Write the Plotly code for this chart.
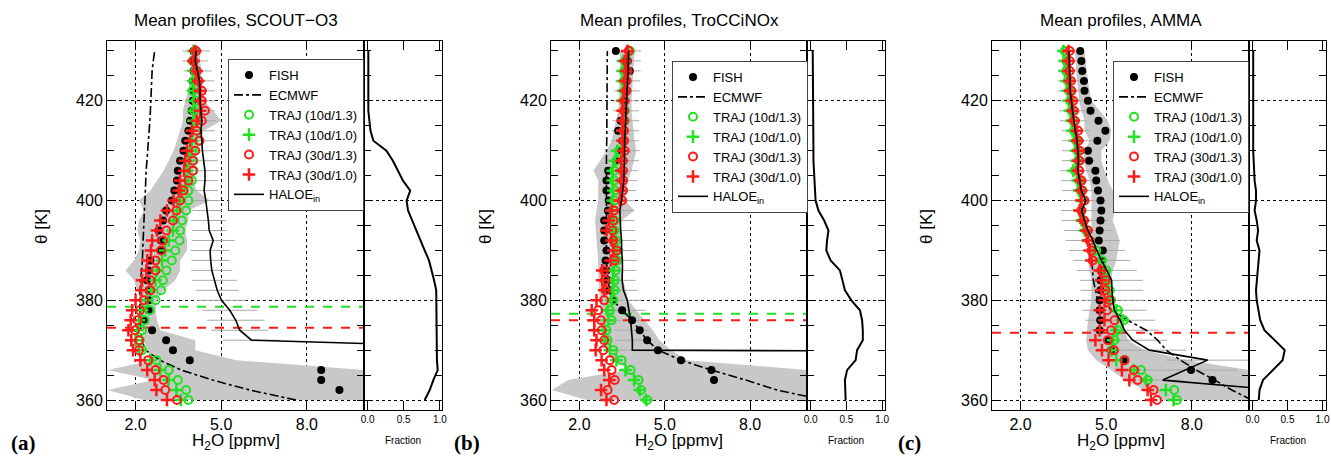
import plotly.graph_objects as go

FONT = "Liberation Sans, Arial, Helvetica, sans-serif"
GREEN = "#22e022"
RED = "#ff1a1a"
FILL_GRAY = "#c8c8c8"
ERR_GRAY = "#a9a9a9"

# potential temperature levels [K]
levels = list(range(360, 432, 2))

titles = ["Mean profiles, SCOUT\u2212O3", "Mean profiles, TroCCiNOx", "Mean profiles, AMMA"]
panel_tags = ["(a)", "(b)", "(c)"]
legend_names = ["FISH", "ECMWF", "TRAJ (10d/1.3)", "TRAJ (10d/1.0)", "TRAJ (30d/1.3)",
                "TRAJ (30d/1.0)", "HALOE<sub>in</sub>"]
h2o_ticks = [2.0, 5.0, 8.0]
h2o_ticktext = ["2.0", "5.0", "8.0"]
theta_ticks = [360, 380, 400, 420]
frac_ticks = [0.0, 0.5, 1.0]
frac_ticktext = ["0.0", "0.5", "1.0"]

# ---------------- (a) SCOUT-O3 ----------------
fish_a = [None, 9.14, 8.50, 8.50, 3.90, 3.31, 3.07, 2.58, 2.29, 2.46,
          2.46, 2.46, 2.40, 2.46, 2.52, 2.89, 2.89, 2.81, 2.96, 3.07,
          3.27, 3.36, 3.45, 3.48, 3.56, 3.68, 3.74, 3.85, 3.91, 3.97,
          4.00, 4.00, 4.00, 4.03, 4.00, 4.03]
traj10_13_a = [3.85, 3.77, 3.48, 3.16, 2.73, 2.23, 2.15, 2.23, 2.32, 2.50,
               2.70, 2.89, 2.96, 3.08, 3.27, 3.39, 3.54, 3.56, 3.62, 3.77,
               3.85, 3.85, 3.97, 4.03, 4.03, 4.00, 4.20, 4.14, 4.12, 4.05,
               4.12, 4.00, 4.05, 4.09, 4.00, 4.09]
traj10_10_a = [3.59, 3.43, 3.16, 2.87, 2.52, 2.12, 2.00, 2.06, 2.12, 2.23,
               2.41, 2.54, 2.70, 2.75, 2.93, 3.04, 3.16, 3.31, 3.33, 3.45,
               3.56, 3.62, 3.74, 3.80, 3.85, 3.91, 3.97, 4.00, 4.03, 4.03,
               4.05, 4.03, 4.03, 4.03, 4.03, 4.03]
traj30_13_a = [3.45, 3.04, 2.98, 2.70, 2.44, 2.12, 2.12, 1.98, 2.06, 2.15,
               2.29, 2.52, 2.52, 2.70, 2.70, 2.89, 2.96, 3.08, 3.31, 3.43,
               3.56, 3.68, 3.85, 4.00, 4.00, 4.09, 4.24, 4.14, 4.32, 4.43,
               4.32, 4.32, 4.20, 4.14, 4.03, 4.12]
traj30_10_a = [3.10, 2.73, 2.67, 2.41, 2.17, 1.91, 1.85, 1.75, 1.83, 1.88,
               2.00, 2.20, 2.23, 2.38, 2.41, 2.54, 2.58, 2.75, 2.87, 3.10,
               3.33, 3.51, 3.56, 3.70, 3.74, 3.80, 3.91, 3.97, 4.14, 4.26,
               4.26, 4.26, 4.20, 4.14, 4.03, 4.09]
ecmwf_a = [7.62, 6.00, 4.70, 3.60, 2.85, 2.35, 2.22, 2.18, 2.16, 2.15,
           2.15, 2.16, 2.18, 2.22, 2.24, 2.25, 2.26, 2.27, 2.28, 2.31,
           2.33, 2.34, 2.35, 2.37, 2.40, 2.43, 2.46, 2.48, 2.50, 2.52,
           2.53, 2.54, 2.56, 2.58, 2.62, 2.67]
fish_lo_a = [2.29, 1.02, 2.64, 1.02, 2.64, 2.41, 2.29, 2.23, 2.12, 2.17,
             2.17, 2.06, 1.94, 1.65, 1.94, 2.12, 2.17, 2.06, 2.12, 2.29,
             2.12, 2.52, 2.75, 2.98, 3.16, 3.33, 3.45, 3.56, 3.66, 3.66,
             3.74, 3.85, 3.89, 3.94, 3.91, 3.91]
fish_hi_a = [10.0, 10.0, 10.0, 10.0, 5.53, 4.09, 4.09, 2.87, 2.75, 2.70,
             2.75, 2.98, 3.39, 3.56, 3.56, 3.80, 3.80, 3.74, 3.85, 3.85,
             4.61, 4.14, 4.03, 4.03, 4.09, 4.14, 4.26, 4.38, 5.01, 4.72,
             4.40, 4.38, 4.32, 4.32, 4.26, 4.26]
haloe_lev_a = list(range(370, 432, 2))
haloe_a = [17.8, 6.06, 5.65, 5.51, 5.30, 5.01, 4.86, 4.76, 4.67, 4.63,
           4.61, 4.72, 4.58, 4.55, 4.51, 4.46, 4.40, 4.43, 4.43, 4.38,
           4.34, 4.32, 4.29, 4.32, 4.29, 4.26, 4.26, 4.24, 4.17, 4.09, 4.12]
haloe_err_a = [0.0, 1.00, 0.99, 1.01, 0.96, 0.85, 0.75, 0.78, 0.72, 0.67,
               0.67, 0.75, 0.61, 0.61, 0.53, 0.52, 0.49, 0.46, 0.48, 0.49,
               0.49, 0.49, 0.49, 0.49, 0.49, 0.52, 0.52, 0.52, 0.49, 0.46, 0.48]
fraction_a = [0.79, 0.86, 0.91, 0.97, 0.96, 0.96, 0.96, 0.96, 0.96, 0.96,
              0.96, 0.95, 0.92, 0.89, 0.85, 0.79, 0.73, 0.68, 0.61, 0.56,
              0.54, 0.59, 0.49, 0.42, 0.35, 0.26, 0.08, 0.04, 0.02, 0.01,
              0.01, 0.01, 0.01, 0.01, 0.01, 0.01]
green_dash_a = 378.7
red_dash_a = 374.5

# ---------------- (b) TroCCiNOx ----------------
fish_b = [None, None, 6.73, 6.64, 5.57, 4.76, 4.38, 4.12, 3.85, 3.50,
          3.19, 3.05, 2.99, 2.95, 2.92, 2.95, 2.87, 2.87, 2.87, 3.00,
          3.03, 2.95, 2.95, 3.01, 3.28, 3.45, 3.50, 3.36, 3.45, 3.55,
          3.60, 3.66, 3.68, 3.77, 3.70, 3.28]
traj10_13_b = [4.38, 4.17, 4.08, 3.80, 3.48, 3.19, 2.99, 2.95, 3.13, 3.07,
               3.19, 3.24, 3.24, 3.27, 3.34, 3.36, 3.30, 3.24, 3.24, 3.19,
               3.22, 3.24, 3.22, 3.22, 3.30, 3.38, 3.56, 3.56, 3.59, 3.59,
               3.56, 3.59, 3.57, 3.57, 3.59, 3.77]
traj10_10_b = [4.35, 4.12, 3.92, 3.62, 3.30, 3.07, 2.90, 2.87, 3.01, 2.99,
               3.13, 3.19, 3.19, 3.21, 3.28, 3.30, 3.25, 3.19, 3.19, 3.14,
               3.17, 3.19, 3.17, 3.17, 3.25, 3.33, 3.51, 3.51, 3.54, 3.54,
               3.51, 3.54, 3.52, 3.52, 3.54, 3.72]
traj30_13_b = [3.22, 2.99, 3.24, 3.13, 3.07, 2.84, 2.87, 2.78, 2.76, 2.66,
               2.87, 2.92, 2.90, 2.87, 3.24, 3.30, 3.19, 3.16, 3.19, 3.22,
               3.50, 3.53, 3.53, 3.53, 3.53, 3.59, 3.57, 3.57, 3.57, 3.57,
               3.59, 3.65, 3.65, 3.69, 3.65, 3.73]
traj30_10_b = [2.95, 2.76, 3.05, 2.87, 2.78, 2.57, 2.60, 2.52, 2.52, 2.43,
               2.60, 2.87, 2.80, 2.80, 3.10, 3.19, 3.13, 2.95, 3.03, 3.13,
               3.42, 3.48, 3.48, 3.48, 3.48, 3.54, 3.52, 3.52, 3.52, 3.52,
               3.54, 3.60, 3.60, 3.64, 3.60, 3.68]
ecmwf_b = [10.6, 8.95, 7.85, 6.64, 5.57, 4.76, 4.38, 4.10, 3.85, 3.50,
           3.19, 3.05, 3.00, 2.97, 2.95, 2.95, 2.93, 2.93, 2.93, 2.93,
           2.93, 2.93, 2.94, 2.95, 2.95, 2.95, 2.96, 2.96, 2.96, 2.96,
           2.96, 2.97, 2.97, 2.98, 2.98, 2.98]
fish_lo_b = [2.26, 1.03, 1.60, 3.70, 3.30, 2.95, 2.78, 2.74, 2.72, 2.72,
             2.72, 2.70, 2.66, 2.66, 2.66, 2.63, 2.60, 2.58, 2.55, 2.60,
             2.66, 2.66, 2.66, 2.49, 2.72, 2.95, 3.13, 3.21, 3.30, 3.36,
             3.38, 3.40, 3.42, 3.42, 3.42, 3.42]
fish_hi_b = [10.0, 10.0, 10.0, 10.0, 5.80, 5.22, 4.81, 4.58, 4.29, 4.00,
             3.71, 3.63, 3.53, 3.48, 3.42, 3.42, 3.42, 3.44, 3.48, 3.94,
             3.59, 3.65, 3.71, 3.83, 3.91, 4.00, 3.94, 3.91, 3.86, 3.83,
             3.83, 3.85, 3.86, 3.88, 3.92, 3.94]
haloe_lev_b = list(range(368, 432, 2))
haloe_b = [100.0, 3.86, 3.86, 3.83, 3.80, 3.74, 3.68, 3.55, 3.50, 3.51,
           3.51, 3.48, 3.48, 3.45, 3.43, 3.42, 3.48, 3.53, 3.56, 3.57,
           3.59, 3.59, 3.59, 3.61, 3.63, 3.64, 3.65, 3.67, 3.69, 3.71,
           3.72, 3.73]
haloe_err_b = [0.0, 0.60, 0.60, 0.60, 0.60, 0.58, 0.50, 0.50, 0.47, 0.50,
               0.50, 0.50, 0.50, 0.50, 0.50, 0.47, 0.47, 0.47, 0.47, 0.48,
               0.50, 0.53, 0.50, 0.48, 0.47, 0.46, 0.45, 0.45, 0.44, 0.44,
               0.44, 0.44]
fraction_b = [0.49, 0.48, 0.48, 0.51, 0.63, 0.65, 0.73, 0.73, 0.72, 0.69,
              0.57, 0.48, 0.45, 0.41, 0.28, 0.22, 0.23, 0.25, 0.19, 0.11,
              0.07, 0.06, 0.05, 0.05, 0.04, 0.04, 0.04, 0.04, 0.03, 0.03,
              0.03, 0.03, 0.03, 0.03, 0.03, 0.03]
green_dash_b = 377.3
red_dash_b = 376.0

# ---------------- (c) AMMA ----------------
fish_c = [None, None, 8.72, 7.97, 5.64, 5.17, 5.06, 4.77, 4.79, 4.77,
          4.77, 4.80, 4.80, 4.83, 4.83, 4.88, 4.74, 4.77, 4.80, 4.83,
          4.80, 4.71, 4.65, 4.62, 4.40, 4.36, 4.69, 4.97, 4.73, 4.45,
          4.36, 4.24, 4.22, 4.16, 4.13, 4.09]
traj10_13_c = [7.48, 7.38, 6.45, 6.22, 5.64, 5.23, 5.29, 5.41, 5.62, 5.41,
               5.17, 5.12, 5.03, 5.00, 4.85, 4.65, 4.42, 4.30, 4.19, 4.13,
               4.19, 4.10, 4.05, 3.90, 4.01, 3.99, 3.95, 3.87, 3.84, 3.78,
               3.74, 3.70, 3.66, 3.60, 3.60, 3.55]
traj10_10_c = [7.36, 7.09, 6.40, 5.97, 5.35, 5.18, 5.24, 5.36, 5.57, 5.36,
               5.12, 5.07, 4.98, 4.95, 4.80, 4.60, 4.37, 4.25, 4.14, 4.08,
               4.14, 4.05, 4.00, 3.85, 3.96, 3.94, 3.90, 3.82, 3.79, 3.73,
               3.69, 3.65, 3.61, 3.55, 3.55, 3.50]
traj30_13_c = [6.78, 6.66, 6.10, 5.97, 5.64, 5.27, 5.06, 5.17, 5.29, 5.03,
               5.12, 4.97, 4.97, 4.83, 4.53, 4.48, 4.42, 4.36, 4.22, 4.13,
               4.24, 4.16, 4.13, 4.05, 4.07, 4.07, 4.03, 4.01, 3.90, 3.87,
               3.84, 3.78, 3.76, 3.72, 3.72, 3.72]
traj30_10_c = [6.57, 6.45, 5.81, 5.55, 5.08, 4.85, 4.62, 4.77, 4.94, 4.77,
               4.94, 4.83, 4.83, 4.77, 4.48, 4.42, 4.36, 4.30, 4.19, 4.07,
               4.13, 4.12, 4.09, 4.01, 4.03, 4.03, 3.99, 3.97, 3.86, 3.83,
               3.80, 3.74, 3.72, 3.68, 3.68, 3.68]
ecmwf_c = [10.1, 9.40, 8.80, 8.15, 7.60, 7.10, 6.80, 6.40, 5.75, 5.20,
           4.70, 4.62, 4.55, 4.52, 4.50, 4.45, 4.38, 4.30, 4.20, 4.12,
           4.15, 4.08, 4.03, 3.98, 3.98, 3.95, 3.92, 3.88, 3.84, 3.80,
           3.76, 3.73, 3.71, 3.69, 3.68, 3.67]
fish_lo_c = [6.92, 6.34, 5.64, 5.17, 4.65, 4.36, 4.30, 4.33, 4.36, 4.42,
             4.48, 4.48, 4.48, 4.42, 4.36, 4.40, 4.48, 4.48, 4.48, 4.48,
             4.48, 4.48, 4.42, 4.30, 4.21, 4.24, 4.42, 4.24, 4.24, 4.13,
             4.05, 4.01, 3.98, 3.95, 3.93, 3.90]
fish_hi_c = [10.0, 10.0, 10.0, 10.0, 7.85, 6.34, 5.76, 5.64, 5.52, 5.35,
             5.23, 5.17, 5.17, 5.23, 5.35, 5.41, 5.47, 5.35, 5.23, 5.29,
             5.52, 5.23, 5.06, 4.94, 4.83, 4.83, 5.12, 5.17, 5.06, 4.77,
             4.48, 4.42, 4.36, 4.30, 4.28, 4.24]
haloe_lev_c = list(range(360, 432, 2))
haloe_c = [12.0, 11.0, 6.98, 7.77, 8.55, 6.51, 5.93, 5.64, 5.49, 5.29,
           5.23, 5.20, 5.19, 5.02, 4.83, 4.67, 4.53, 4.36, 4.24, 4.15,
           4.28, 4.13, 4.07, 4.01, 4.03, 4.00, 3.98, 3.92, 3.86, 3.82,
           3.78, 3.74, 3.73, 3.72, 3.71, 3.70]
haloe_err_c = [0.0, 0.0, 0.72, 1.80, 1.45, 1.30, 1.20, 1.20, 1.22, 1.13,
               1.10, 1.10, 1.10, 1.05, 1.00, 0.98, 0.95, 0.85, 0.80, 0.74,
               0.72, 0.68, 0.65, 0.62, 0.58, 0.55, 0.52, 0.50, 0.48, 0.46,
               0.45, 0.44, 0.43, 0.42, 0.41, 0.40]
fraction_c = [0.09, 0.10, 0.15, 0.29, 0.43, 0.46, 0.32, 0.17, 0.11, 0.08,
              0.06, 0.05, 0.06, 0.08, 0.09, 0.10, 0.06, 0.08, 0.06, 0.03,
              0.05, 0.05, 0.03, 0.02, 0.01, 0.01, 0.01, 0.01, 0.01, 0.01,
              0.01, 0.01, 0.01, 0.01, 0.01, 0.01]
green_dash_c = None
red_dash_c = 373.5

panels = [
    dict(fish=fish_a, g13=traj10_13_a, g10=traj10_10_a, r13=traj30_13_a, r10=traj30_10_a,
         ecmwf=ecmwf_a, lo=fish_lo_a, hi=fish_hi_a, hlev=haloe_lev_a, haloe=haloe_a,
         herr=haloe_err_a, frac=fraction_a, gdash=green_dash_a, rdash=red_dash_a),
    dict(fish=fish_b, g13=traj10_13_b, g10=traj10_10_b, r13=traj30_13_b, r10=traj30_10_b,
         ecmwf=ecmwf_b, lo=fish_lo_b, hi=fish_hi_b, hlev=haloe_lev_b, haloe=haloe_b,
         herr=haloe_err_b, frac=fraction_b, gdash=green_dash_b, rdash=red_dash_b),
    dict(fish=fish_c, g13=traj10_13_c, g10=traj10_10_c, r13=traj30_13_c, r10=traj30_10_c,
         ecmwf=ecmwf_c, lo=fish_lo_c, hi=fish_hi_c, hlev=haloe_lev_c, haloe=haloe_c,
         herr=haloe_err_c, frac=fraction_c, gdash=green_dash_c, rdash=red_dash_c),
]

# ---------------- layout geometry (pixels of a 1331 x 456 canvas) ----------------
W, H = 1331, 456
main_px = [(107, 364), (551, 807), (992, 1249)]
frac_px = [(364, 442), (807, 885), (1249, 1326)]
top_px, bot_px = 41, 410
legend_px = [(228, 59), (672, 61), (1113, 61)]
ytitle_px = [42, 486, 927]
tag_px = [23, 467, 909]

H2O_RANGE = [1.0, 10.0]
THETA_RANGE = [358, 432]
FRAC_RANGES = [[-0.05, 1.03], [-0.05, 1.04], [-0.05, 1.05]]

fig = go.Figure()

def px_x(v):
    return v / W

def px_y(v):
    return 1 - v / H

for i, p in enumerate(panels):
    mx = "x" if i == 0 else f"x{2 * i + 1}"
    my = "y" if i == 0 else f"y{2 * i + 1}"
    fx = f"x{2 * i + 2}"
    fy = f"y{2 * i + 2}"
    leg = "legend" if i == 0 else f"legend{i + 1}"
    common = dict(xaxis=mx, yaxis=my, legend=leg, hoverinfo="skip")

    # FISH variability envelope
    fig.add_trace(go.Scatter(x=p["lo"] + p["hi"][::-1], y=levels + levels[::-1],
                             fill="toself", fillcolor=FILL_GRAY, mode="lines",
                             line=dict(width=0, color=FILL_GRAY), showlegend=False, **common))
    # HALOE uncertainty bars
    fig.add_trace(go.Scatter(x=p["haloe"], y=p["hlev"], mode="markers",
                             marker=dict(size=1, color="rgba(0,0,0,0)"),
                             error_x=dict(type="data", array=p["herr"], color=ERR_GRAY,
                                          thickness=1, width=0),
                             showlegend=False, **common))
    # threshold levels
    if p["gdash"] is not None:
        fig.add_trace(go.Scatter(x=H2O_RANGE, y=[p["gdash"]] * 2, mode="lines",
                                 line=dict(color=GREEN, width=2, dash="dash"),
                                 showlegend=False, **common))
    if p["rdash"] is not None:
        fig.add_trace(go.Scatter(x=H2O_RANGE, y=[p["rdash"]] * 2, mode="lines",
                                 line=dict(color=RED, width=2, dash="dash"),
                                 showlegend=False, **common))
    # FISH
    fig.add_trace(go.Scatter(x=p["fish"], y=levels, mode="markers", name=legend_names[0],
                             marker=dict(symbol="circle", size=8, color="black"), **common))
    # ECMWF
    fig.add_trace(go.Scatter(x=p["ecmwf"], y=levels, mode="lines", name=legend_names[1],
                             line=dict(color="black", width=1.6, dash="dashdot"), **common))
    # TRAJ series
    fig.add_trace(go.Scatter(x=p["g13"], y=levels, mode="markers", name=legend_names[2],
                             marker=dict(symbol="circle-open", size=8, color=GREEN,
                                         line=dict(width=2, color=GREEN)), **common))
    fig.add_trace(go.Scatter(x=p["g10"], y=levels, mode="markers", name=legend_names[3],
                             marker=dict(symbol="cross-thin-open", size=9, color=GREEN,
                                         line=dict(width=2.5, color=GREEN)), **common))
    fig.add_trace(go.Scatter(x=p["r13"], y=levels, mode="markers", name=legend_names[4],
                             marker=dict(symbol="circle-open", size=8, color=RED,
                                         line=dict(width=2, color=RED)), **common))
    fig.add_trace(go.Scatter(x=p["r10"], y=levels, mode="markers", name=legend_names[5],
                             marker=dict(symbol="cross-thin-open", size=9, color=RED,
                                         line=dict(width=2.5, color=RED)), **common))
    # HALOE
    fig.add_trace(go.Scatter(x=p["haloe"], y=p["hlev"], mode="lines", name=legend_names[6],
                             line=dict(color="black", width=1.6), **common))
    # Fraction panel
    fig.add_trace(go.Scatter(x=p["frac"], y=levels, mode="lines", showlegend=False,
                             line=dict(color="black", width=2), xaxis=fx, yaxis=fy,
                             hoverinfo="skip"))

    dom_main = [px_x(main_px[i][0]), px_x(main_px[i][1])]
    dom_frac = [px_x(frac_px[i][0]), px_x(frac_px[i][1])]
    dom_y = [px_y(bot_px), px_y(top_px)]

    axis_line = dict(showline=True, linecolor="black", linewidth=1, mirror="ticks",
                     zeroline=False, ticks="inside", tickcolor="black", automargin=False)
    grid = dict(showgrid=True, gridcolor="black", griddash="dot", gridwidth=1)

    xk = "xaxis" if i == 0 else f"xaxis{2 * i + 1}"
    yk = "yaxis" if i == 0 else f"yaxis{2 * i + 1}"
    fxk = f"xaxis{2 * i + 2}"
    fyk = f"yaxis{2 * i + 2}"

    fig.update_layout({
        xk: dict(domain=dom_main, range=H2O_RANGE, anchor=my, tickvals=h2o_ticks,
                 ticktext=h2o_ticktext, ticklen=8,
                 tickfont=dict(size=16, family=FONT, color="black"), **axis_line, **grid),
        yk: dict(domain=dom_y, range=THETA_RANGE, anchor=mx, tickvals=theta_ticks, ticklen=7,
                 tickfont=dict(size=16, family=FONT, color="black"),
                 minor=dict(tickvals=list(range(360, 431, 5)), ticks="inside", ticklen=7,
                            tickcolor="black", showgrid=False),
                 **axis_line, **grid),
        fxk: dict(domain=dom_frac, range=FRAC_RANGES[i], anchor=fy, tickvals=frac_ticks,
                  ticktext=frac_ticktext, ticklen=9, showgrid=False,
                  ticklabeloverflow="allow",
                  tickfont=dict(size=10, family=FONT, color="black"), **axis_line),
        fyk: dict(domain=dom_y, range=THETA_RANGE, anchor=fx, tickvals=theta_ticks, ticklen=7,
                  showticklabels=False,
                  minor=dict(tickvals=list(range(360, 431, 5)), ticks="inside", ticklen=7,
                             tickcolor="black", showgrid=False),
                  **axis_line, **grid),
        leg: dict(x=px_x(legend_px[i][0]), y=px_y(legend_px[i][1]), xanchor="left",
                  yanchor="top", bgcolor="white", bordercolor="#444", borderwidth=1,
                  font=dict(size=13, family=FONT, color="black"), tracegroupgap=0,
                  itemwidth=30),
    })

    cx_main = (main_px[i][0] + main_px[i][1]) / 2
    cx_frac = (frac_px[i][0] + frac_px[i][1]) / 2
    ann = dict(xref="paper", yref="paper", showarrow=False, xanchor="center", yanchor="middle")
    fig.add_annotation(text=titles[i], x=px_x(cx_main), y=px_y(20),
                       font=dict(size=17, family=FONT, color="black"), **ann)
    fig.add_annotation(text="H<sub>2</sub>O [ppmv]", x=px_x(cx_main), y=px_y(442),
                       font=dict(size=17, family=FONT, color="black"), **ann)
    fig.add_annotation(text="Fraction", x=px_x(cx_frac), y=px_y(440),
                       font=dict(size=10, family=FONT, color="black"), **ann)
    fig.add_annotation(text="\u03b8 [K]", x=px_x(ytitle_px[i]), y=px_y(227), textangle=-90,
                       font=dict(size=17, family=FONT, color="black"), **ann)
    fig.add_annotation(text="<b>" + panel_tags[i] + "</b>", x=px_x(tag_px[i]), y=px_y(443),
                       font=dict(size=21, family="Liberation Serif, Times New Roman, serif",
                                 color="black"), **ann)

fig.update_layout(width=W, height=H, margin=dict(l=0, r=0, t=0, b=0),
                  plot_bgcolor="white", paper_bgcolor="white",
                  font=dict(family=FONT, color="black"))

fig.write_html("out.html", config={"displayModeBar": False},
               post_script="document.body.style.margin='0px';"
                           "document.body.style.overflow='hidden';")
